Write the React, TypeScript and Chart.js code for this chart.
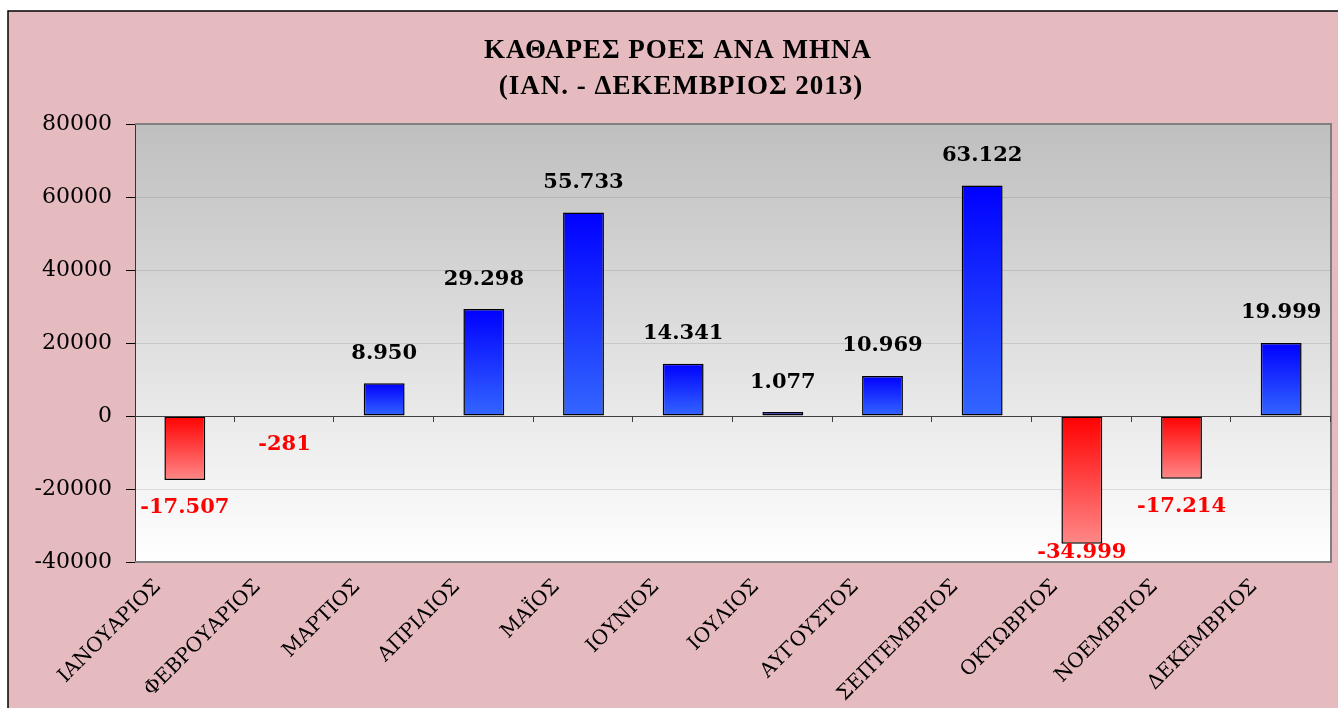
import React, { useEffect, useRef } from "react";
import { Chart, registerables } from "chart.js";

Chart.register(...registerables);

const months = [
  "ΙΑΝΟΥΑΡΙΟΣ",
  "ΦΕΒΡΟΥΑΡΙΟΣ",
  "ΜΑΡΤΙΟΣ",
  "ΑΠΡΙΛΙΟΣ",
  "ΜΑΪΟΣ",
  "ΙΟΥΝΙΟΣ",
  "ΙΟΥΛΙΟΣ",
  "ΑΥΓΟΥΣΤΟΣ",
  "ΣΕΠΤΕΜΒΡΙΟΣ",
  "ΟΚΤΩΒΡΙΟΣ",
  "ΝΟΕΜΒΡΙΟΣ",
  "ΔΕΚΕΜΒΡΙΟΣ",
];
const netFlows = [-17507, -281, 8950, 29298, 55733, 14341, 1077, 10969, 63122, -34999, -17214, 19999];
const yMin = -40000;
const yMax = 80000;
const yStep = 20000;
const titleLines = ["ΚΑΘΑΡΕΣ ΡΟΕΣ ΑΝΑ ΜΗΝΑ", "(ΙΑΝ. - ΔΕΚΕΜΒΡΙΟΣ 2013)"];

const fmt = (v: number) => {
  const s = Math.abs(v).toString().replace(/\B(?=(\d{3})+(?!\d))/g, ".");
  return (v < 0 ? "-" : "") + s;
};

const bgPlugin = {
  id: "bgPlugin",
  beforeDraw(chart: any) {
    const { ctx, width, height, chartArea: a } = chart;
    ctx.save();
    ctx.fillStyle = "#ffffff";
    ctx.fillRect(0, 0, width, height);
    ctx.fillStyle = "#e5bbc0";
    ctx.fillRect(8, 11, width, height);
    ctx.strokeStyle = "#000000";
    ctx.lineWidth = 1.5;
    ctx.strokeRect(8, 11, width + 10, height + 10);
    const g = ctx.createLinearGradient(0, a.top, 0, a.bottom);
    g.addColorStop(0, "#bfbfbf");
    g.addColorStop(1, "#ffffff");
    ctx.fillStyle = g;
    ctx.fillRect(a.left, a.top, a.right - a.left, a.bottom - a.top);
    ctx.fillStyle = "#000000";
    ctx.font = 'bold 27px "Liberation Serif"';
    (ctx as any).letterSpacing = "1px";
    ctx.textAlign = "center";
    ctx.textBaseline = "middle";
    ctx.fillText(titleLines[0], 678, 51);
    ctx.fillText(titleLines[1], 681, 87);
    (ctx as any).letterSpacing = "0px";
    ctx.restore();
  },
  afterDatasetsDraw(chart: any) {
    const { ctx, chartArea: a, scales } = chart;
    const y0 = scales.y.getPixelForValue(0);
    ctx.save();
    // plot border
    ctx.strokeStyle = "#808080";
    ctx.lineWidth = 2;
    ctx.beginPath();
    ctx.moveTo(a.left, a.top);
    ctx.lineTo(a.right, a.top);
    ctx.lineTo(a.right, a.bottom);
    ctx.lineTo(a.left, a.bottom);
    ctx.stroke();
    // zero line + category tick marks
    ctx.strokeStyle = "#404040";
    ctx.lineWidth = 1;
    ctx.beginPath();
    ctx.moveTo(a.left, Math.round(y0) + 0.5);
    ctx.lineTo(a.right, Math.round(y0) + 0.5);
    const n = months.length;
    const w = (a.right - a.left) / n;
    for (let i = 1; i <= n; i++) {
      const x = Math.round(a.left + i * w) - 0.5;
      ctx.moveTo(x, y0);
      ctx.lineTo(x, y0 + 6);
    }
    ctx.stroke();
    // data labels
    const meta = chart.getDatasetMeta(0);
    ctx.font = 'bold 21px "DejaVu Serif"';
    ctx.textAlign = "center";
    ctx.textBaseline = "middle";
    meta.data.forEach((el: any, i: number) => {
      const v = netFlows[i];
      let ty;
      if (v >= 0) {
        ty = el.y - 30;
        ctx.fillStyle = "#000000";
      } else {
        ty = Math.min(el.y + 28, a.bottom - 9);
        ctx.fillStyle = "#ff0000";
      }
      ctx.fillText(fmt(v), el.x, ty);
    });
    ctx.restore();
  },
};

function barFill(ctx: any) {
  const chart = ctx.chart;
  const v = netFlows[ctx.dataIndex];
  const ys = chart.scales && chart.scales.y;
  if (!chart.chartArea || !ys) return v >= 0 ? "#1a3cff" : "#ff4040";
  const top = ys.getPixelForValue(Math.max(v, 0));
  const bot = ys.getPixelForValue(Math.min(v, 0));
  const g = chart.ctx.createLinearGradient(0, top, 0, Math.max(bot, top + 1));
  if (v >= 0) {
    g.addColorStop(0, "#0000ff");
    g.addColorStop(1, "#3366ff");
  } else {
    g.addColorStop(0, "#ff0000");
    g.addColorStop(1, "#ff8888");
  }
  return g;
}

export default function App() {
  const ref = useRef<HTMLCanvasElement>(null);
  useEffect(() => {
    if (!ref.current) return;
    const chart = new Chart(ref.current, {
      type: "bar",
      data: {
        labels: months,
        datasets: [
          {
            data: netFlows,
            backgroundColor: barFill,
            borderColor: "#000000",
            borderWidth: 1.5,
            borderSkipped: false,
            barPercentage: 0.41,
            categoryPercentage: 1,
          },
        ],
      },
      options: {
        animation: false,
        responsive: false,
        layout: { padding: { left: 10, right: 7, top: 124, bottom: 0 } },
        plugins: {
          legend: { display: false },
          title: { display: false },
          tooltip: { enabled: false },
        },
        scales: {
          x: {
            grid: { display: false, drawTicks: false },
            border: { display: false },
            ticks: {
              autoSkip: false,
              minRotation: 45,
              maxRotation: 45,
              labelOffset: -27,
              padding: 13,
              color: "#000000",
              font: { family: '"DejaVu Serif"', size: 20 },
            },
            afterFit: (s: any) => {
              s.height = 146;
            },
          },
          y: {
            min: yMin,
            max: yMax,
            ticks: {
              stepSize: yStep,
              color: "#000000",
              padding: 14,
              font: { family: '"DejaVu Serif"', size: 22 },
              callback: (v: any) => String(v),
            },
            grid: {
              color: "rgba(0,0,0,0.1)",
              tickColor: "#000000",
              tickLength: 9,
            },
            border: { display: true, color: "#333333", width: 1 },
            afterFit: (s: any) => {
              s.width = 125;
            },
          },
        },
      },
      plugins: [bgPlugin],
    });
    return () => chart.destroy();
  }, []);
  return (
    <div style={{ position: "absolute", left: 0, top: 0, width: 1338, height: 708 }}>
      <canvas ref={ref} width={1338} height={708} style={{ display: "block" }} />
    </div>
  );
}
